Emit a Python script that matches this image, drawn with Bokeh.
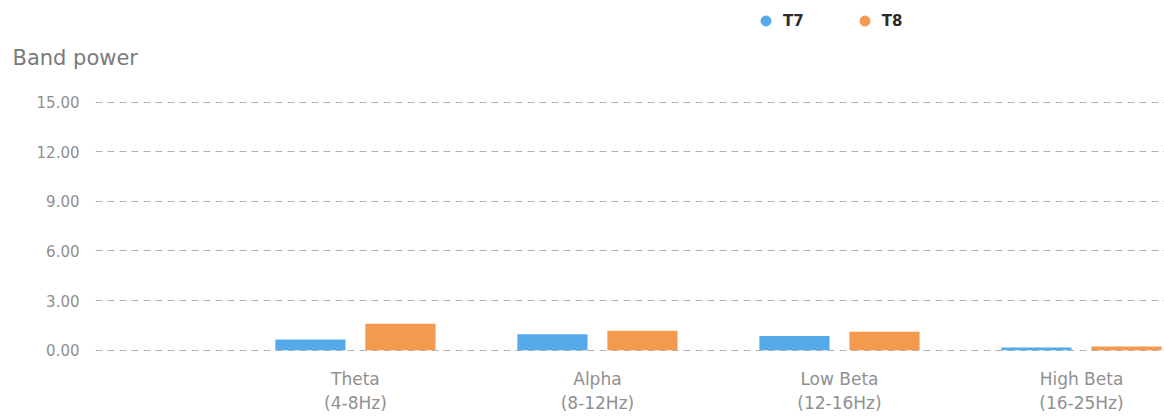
from bokeh.plotting import figure
from bokeh.layouts import column
from bokeh.models import (ColumnDataSource, Range1d, FixedTicker, NumeralTickFormatter,
                          Label, Legend, LegendItem)
from bokeh.transform import dodge
from bokeh.embed import file_html
from bokeh.resources import INLINE

categories = ["Theta\n(4-8Hz)", "Alpha\n(8-12Hz)", "Low Beta\n(12-16Hz)", "High Beta\n(16-25Hz)"]
t7 = [0.65, 0.97, 0.86, 0.17]
t8 = [1.60, 1.17, 1.12, 0.22]
y_ticks = [0, 3, 6, 9, 12, 15]
series_names = ["T7", "T8"]

idx = list(range(len(categories)))
src = ColumnDataSource(dict(x=idx, t7=t7, t8=t8))

FONT = "DejaVu Sans"
BLUE = "#55aaea"
ORANGE = "#f39a4f"

# ---- header (title + legend) ----
head = figure(width=1164, height=90, output_backend="svg", toolbar_location=None,
              x_range=Range1d(0, 1), y_range=Range1d(0, 1),
              x_axis_type=None, y_axis_type=None,
              min_border_left=0, min_border_right=0, min_border_top=0, min_border_bottom=0)
head.outline_line_color = None
head.xgrid.visible = False
head.ygrid.visible = False

head.add_layout(Label(x=12, y=33, x_units="screen", y_units="screen", text="Band power",
                      text_font=FONT, text_font_size="21px", text_color="#7a7a7a",
                      text_baseline="middle"))

r7 = head.scatter(x=[float("nan")], y=[float("nan")], size=10, color=BLUE)
r8 = head.scatter(x=[float("nan")], y=[float("nan")], size=10, color=ORANGE)
legend = Legend(items=[LegendItem(label=series_names[0], renderers=[r7]),
                       LegendItem(label=series_names[1], renderers=[r8])],
                orientation="horizontal", location=(753, 57), padding=0, margin=0,
                glyph_width=25, glyph_height=25, label_standoff=5, spacing=48,
                border_line_color=None, background_fill_alpha=0,
                label_text_font=FONT, label_text_font_style="bold",
                label_text_font_size="15px", label_text_color="#2b2b2b")
head.add_layout(legend, "center")

# ---- main chart ----
p = figure(width=1164, height=330, output_backend="svg", toolbar_location=None,
           x_range=Range1d(-1.074, 3.343), y_range=Range1d(-0.2, 15.7),
           min_border_left=95, min_border_right=0, min_border_top=0, min_border_bottom=67)
p.outline_line_color = None
p.background_fill_color = "white"
p.border_fill_color = "white"

for fig in (head, p):
    if "frame_align" in fig.properties():
        fig.frame_align = False

p.vbar(x=dodge("x", -0.186, range=p.x_range), top="t7", width=0.29, source=src,
       fill_color=BLUE, line_color=None)
p.vbar(x=dodge("x", 0.186, range=p.x_range), top="t8", width=0.29, source=src,
       fill_color=ORANGE, line_color=None)

p.xgrid.grid_line_color = None
p.ygrid.grid_line_color = "#b0b0b0"
p.ygrid.grid_line_dash = "7 5"
p.ygrid.grid_line_width = 1

p.xaxis.ticker = FixedTicker(ticks=idx)
p.xaxis.major_label_overrides = {i: c for i, c in zip(idx, categories)}
p.yaxis.ticker = FixedTicker(ticks=y_ticks)
p.yaxis.formatter = NumeralTickFormatter(format="0.00")
for ax in (p.xaxis, p.yaxis):
    ax.axis_line_color = None
    ax.major_tick_line_color = None
    ax.minor_tick_line_color = None
    ax.major_label_text_font = FONT
    ax.major_label_text_color = "#8f8f8f"
p.yaxis.major_label_standoff = 10
p.yaxis.major_label_text_font_size = "15px"
p.xaxis.major_label_text_font_size = "17px"
p.xaxis.major_label_standoff = 9

layout = column(head, p, spacing=0)
open("out.html", "w").write(file_html(layout, INLINE))
